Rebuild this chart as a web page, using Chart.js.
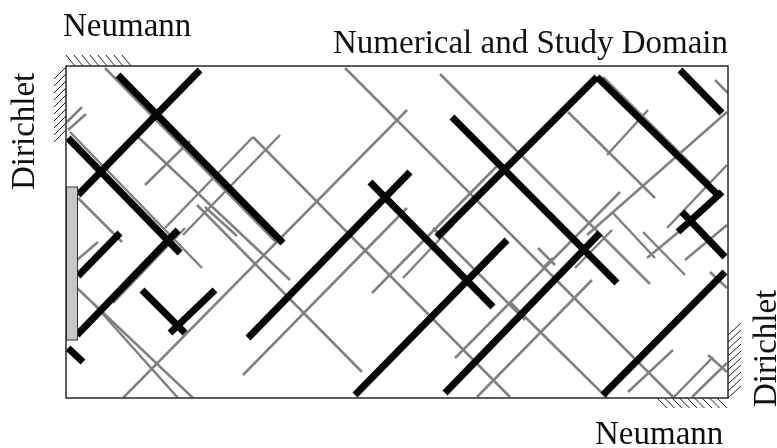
<!DOCTYPE html>
<html>
<head>
<meta charset="utf-8">
<script src="https://cdn.jsdelivr.net/npm/chart.js@4/dist/chart.umd.min.js"></script>
<style>
  html, body { margin: 0; padding: 0; background: #fff; }
  #wrap { width: 777px; height: 448px; }
</style>
</head>
<body>
<div id="wrap"><canvas id="dfn" width="777" height="448"></canvas></div>
<script>
// Domain extent (length units)
const domainX = [0, 662];
const domainY = [0, 332];

// Major (highly conductive) fractures: [x1, y1, x2, y2]
const majorFractures = [
  [52, 323, 217, 155],
  [134, 328, 12, 203],
  [2, 260, 114, 145],
  [54, 165, 12, 122],
  [112, 168, 11, 63],
  [76, 108, 119, 65],
  [149, 108, 104, 65],
  [2, 50, 17, 36],
  [182, 60, 344, 226],
  [304, 216, 427, 91],
  [289, 3, 441, 158],
  [379, 5, 534, 165],
  [371, 161, 531, 321],
  [531, 321, 654, 201],
  [386, 281, 551, 115],
  [614, 328, 656, 285],
  [656, 206, 612, 166],
  [616, 186, 659, 141],
  [537, 3, 659, 126]
];

// Minor fractures: [x1, y1, x2, y2]
const minorFractures = [
  [39, 330, 210, 156],
  [1, 276, 16, 291],
  [2, 268, 20, 284],
  [4, 266, 136, 130],
  [79, 213, 124, 257],
  [71, 262, 224, 118],
  [99, 170, 187, 261],
  [117, 163, 214, 263],
  [187, 261, 444, 1],
  [131, 193, 296, 26],
  [139, 191, 171, 162],
  [12, 200, 56, 156],
  [11, 138, 32, 156],
  [47, 95, 119, 170],
  [11, 110, 127, 0],
  [27, 95, 112, 0],
  [57, 0, 341, 288],
  [177, 23, 341, 190],
  [279, 330, 607, 1],
  [374, 324, 584, 114],
  [306, 105, 434, 235],
  [337, 120, 387, 173],
  [367, 170, 459, 78],
  [389, 40, 554, 206],
  [411, 1, 526, 118],
  [537, 321, 644, 215],
  [502, 286, 589, 200],
  [541, 243, 582, 288],
  [661, 286, 521, 163],
  [661, 233, 601, 170],
  [547, 185, 589, 140],
  [649, 318, 662, 305],
  [577, 166, 619, 123],
  [581, 140, 621, 173],
  [619, 138, 661, 173],
  [644, 126, 661, 110],
  [444, 96, 541, 0],
  [562, 6, 607, 48],
  [607, 0, 647, 41],
  [642, 43, 661, 26],
  [626, 1, 661, 35],
  [509, 130, 546, 168],
  [472, 150, 489, 133],
  [477, 130, 487, 140]
];

// Boundary conditions
const inflowBar = [58, 211];          // fixed-head strip on the left edge (y range)
const neumannTop = [0, 72];           // x range
const neumannBottom = [591, 662];     // x range
const dirichletLeft = [258, 331];     // y range
const dirichletRight = [0, 75];       // y range

const labels = {
  domain: 'Numerical and Study Domain',
  neumann: 'Neumann',
  dirichlet: 'Dirichlet'
};

function toDataset(seg, color, width, order) {
  return {
    data: [{ x: seg[0], y: seg[1] }, { x: seg[2], y: seg[3] }],
    showLine: true,
    borderColor: color,
    borderWidth: width,
    borderCapStyle: 'butt',
    pointRadius: 0,
    pointHoverRadius: 0,
    clip: 0,
    order: order
  };
}

const datasets = [
  ...majorFractures.map(s => toDataset(s, '#050505', 7, 0)),
  ...minorFractures.map(s => toDataset(s, '#808080', 2.5, 1))
];

const SERIF = '"Liberation Serif", "DejaVu Serif", serif';

const boundaryPlugin = {
  id: 'boundaries',
  afterDatasetsDraw(chart) {
    const { ctx, chartArea: a, scales: { x, y } } = chart;
    ctx.save();

    // fixed-head strip
    const yb0 = y.getPixelForValue(inflowBar[0]);
    const yb1 = y.getPixelForValue(inflowBar[1]);
    ctx.fillStyle = '#c6c6c6';
    ctx.fillRect(a.left, yb1, 11, yb0 - yb1);
    ctx.strokeStyle = '#333';
    ctx.lineWidth = 1;
    ctx.strokeRect(a.left + 0.5, yb1, 11, yb0 - yb1);

    // domain frame
    ctx.strokeStyle = '#2a2a2a';
    ctx.lineWidth = 1.5;
    ctx.strokeRect(a.left, a.top, a.right - a.left, a.bottom - a.top);

    // hatching
    ctx.strokeStyle = '#222';
    ctx.lineWidth = 1;
    ctx.beginPath();
    // top (Neumann)
    let xs = x.getPixelForValue(neumannTop[0]);
    let xe = x.getPixelForValue(neumannTop[1]);
    for (let p = xs; p <= xe - 9; p += 8) {
      ctx.moveTo(p, a.top - 11); ctx.lineTo(p + 9, a.top);
    }
    // bottom (Neumann)
    xs = x.getPixelForValue(neumannBottom[0]);
    xe = x.getPixelForValue(neumannBottom[1]);
    for (let p = xs; p <= xe - 9; p += 7.5) {
      ctx.moveTo(p, a.bottom); ctx.lineTo(p + 10, a.bottom + 10);
    }
    // left (Dirichlet)
    let ys = y.getPixelForValue(dirichletLeft[1]);
    let ye = y.getPixelForValue(dirichletLeft[0]);
    for (let p = ys; p <= ye - 10; p += 7) {
      ctx.moveTo(a.left - 12, p + 12); ctx.lineTo(a.left, p);
    }
    // right (Dirichlet)
    ys = y.getPixelForValue(dirichletRight[1]);
    ye = y.getPixelForValue(dirichletRight[0]);
    for (let p = ys + 12; p <= ye + 1; p += 7) {
      ctx.moveTo(a.right, p); ctx.lineTo(a.right + 13, p - 12);
    }
    ctx.stroke();

    // labels
    ctx.fillStyle = '#111';
    ctx.font = '33px ' + SERIF;
    ctx.textBaseline = 'alphabetic';
    ctx.textAlign = 'left';
    ctx.fillText(labels.neumann, 63, 36);
    ctx.fillText(labels.neumann, 595, 444);
    ctx.textAlign = 'right';
    ctx.fillText(labels.domain, 728, 53);

    ctx.textAlign = 'left';
    ctx.save();
    ctx.translate(34, 190);
    ctx.rotate(-Math.PI / 2);
    ctx.fillText(labels.dirichlet, 0, 0);
    ctx.restore();
    ctx.save();
    ctx.translate(776, 407);
    ctx.rotate(-Math.PI / 2);
    ctx.fillText(labels.dirichlet, 0, 0);
    ctx.restore();

    ctx.restore();
  }
};

new Chart(document.getElementById('dfn'), {
  type: 'scatter',
  data: { datasets },
  options: {
    responsive: false,
    animation: false,
    events: [],
    layout: { padding: { left: 66, top: 66, right: 49, bottom: 50 } },
    plugins: { legend: { display: false }, tooltip: { enabled: false } },
    scales: {
      x: { type: 'linear', min: domainX[0], max: domainX[1], display: false },
      y: { type: 'linear', min: domainY[0], max: domainY[1], display: false }
    }
  },
  plugins: [boundaryPlugin]
});
</script>
</body>
</html>
